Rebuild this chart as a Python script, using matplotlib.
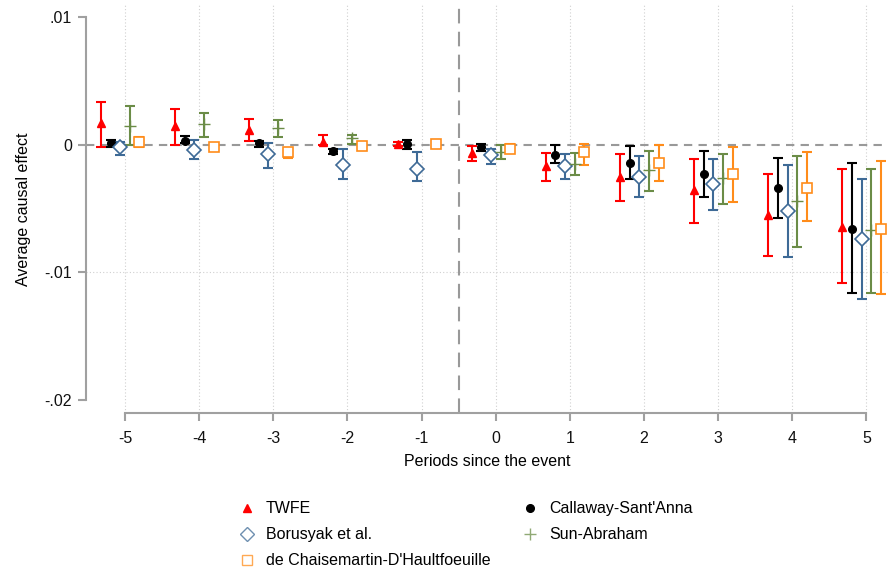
import matplotlib
matplotlib.use("Agg")
import matplotlib.pyplot as plt
from matplotlib.lines import Line2D
import numpy as np

plt.rcParams['font.family'] = ['Liberation Sans', 'DejaVu Sans']

periods = [-5, -4, -3, -2, -1, 0, 1, 2, 3, 4, 5]

series_names = ["TWFE", "Callaway-Sant'Anna", "Borusyak et al.", "Sun-Abraham",
                "de Chaisemartin-D'Haultfoeuille"]

twfe_est = [0.00168, 0.0015, 0.00115, 0.00024, 0.00005, -0.00068, -0.0017, -0.0025, -0.00355, -0.0055, -0.0064]
twfe_lo = [-0.0002, 0.0, 0.0003, 0.0, -0.0001, -0.0013, -0.0028, -0.0044, -0.0061, -0.0087, -0.0108]
twfe_hi = [0.00337, 0.0028, 0.002, 0.00076, 0.0002, -0.0001, -0.00068, -0.0007, -0.00114, -0.0023, -0.0019]

cs_est = [0.0001, 0.0003, 0.0001, -0.0005, 0.00005, -0.0002, -0.0008, -0.00146, -0.0023, -0.0034, -0.0066]
cs_lo = [-0.0002, 0.0001, -0.0002, -0.00075, -0.00036, -0.0005, -0.00146, -0.0027, -0.0041, -0.0057, -0.0116]
cs_hi = [0.0004, 0.0007, 0.0003, -0.0003, 0.00037, 0.00005, 0.0, -0.0001, -0.0005, -0.001, -0.00146]

bjs_est = [-0.0002, -0.0004, -0.00075, -0.0016, -0.0019, -0.0008, -0.0017, -0.0025, -0.0031, -0.0052, -0.0074]
bjs_lo = [-0.0008, -0.0011, -0.0018, -0.0027, -0.0028, -0.0015, -0.0027, -0.0041, -0.0051, -0.0088, -0.0121]
bjs_hi = [0.0002, 0.0004, 0.00016, -0.0003, -0.00055, -0.00036, -0.0007, -0.0009, -0.0011, -0.0016, -0.0027]

sa_est = [0.0015, 0.0016, 0.0013, 0.0005, np.nan, -0.00055, -0.0015, -0.002, -0.0026, -0.0044, -0.0067]
sa_lo = [0.0, 0.0006, 0.0006, 0.00005, np.nan, -0.0011, -0.0024, -0.0036, -0.0046, -0.008, -0.0116]
sa_hi = [0.003, 0.0025, 0.0019, 0.0008, np.nan, 0.0, -0.00068, -0.00047, -0.0007, -0.0009, -0.0019]

dcdh_est = [0.0002, -0.0002, -0.0006, -0.0001, 0.00003, -0.0003, -0.0006, -0.0014, -0.0023, -0.0034, -0.0066]
dcdh_lo = [-0.0002, -0.0004, -0.001, -0.0004, 0.0, -0.0006, -0.0016, -0.0028, -0.0045, -0.006, -0.0117]
dcdh_hi = [0.0006, 0.0, -0.0003, 0.00024, 0.00006, 0.00005, 0.00005, 0.0, -0.0002, -0.0006, -0.0013]

shifts = [-0.325, -0.195, -0.065, 0.065, 0.195]
colors = ["#FF0000", "#000000", "#3E6A96", "#6B8C47", "#FF8C1A"]
markers = ["^", "o", "D", "+", "s"]
msizes = [6, 5.5, 7, 8, 6.5]
filled = [True, True, False, True, False]

data = [(twfe_est, twfe_lo, twfe_hi), (cs_est, cs_lo, cs_hi), (bjs_est, bjs_lo, bjs_hi),
        (sa_est, sa_lo, sa_hi), (dcdh_est, dcdh_lo, dcdh_hi)]

fig = plt.figure(figsize=(8.88, 5.74), dpi=100)
ax = fig.add_axes([86/888, 1-413/574, 1-86/888, (413-5)/574])

ax.set_xlim(-5.526, 5.29)
ax.set_ylim(-0.0210, 0.01094)

# grid
for p in periods:
    ax.axvline(p, color="#d0d0d0", lw=0.8, ls=(0, (1, 2)), zorder=0)
ax.axhline(-0.01, color="#d0d0d0", lw=0.8, ls=(0, (1, 2)), zorder=0)
ax.axhline(0, color="#999999", lw=1.5, ls=(0, (4, 3)), zorder=1)
ax.axvline(-0.5, color="#999999", lw=1.5, ls=(0, (7, 4)), zorder=1)

handles = []
for i, (est, lo, hi) in enumerate(data):
    x = np.array(periods) + shifts[i]
    est = np.array(est); lo = np.array(lo); hi = np.array(hi)
    yerr = np.vstack([est - lo, hi - est])
    c = colors[i]
    ax.errorbar(x, est, yerr=yerr, fmt="none", ecolor=c, elinewidth=1.5,
                capsize=3.8, capthick=1.5, zorder=3)
    if filled[i]:
        ax.plot(x, est, ls="none", marker=markers[i], color=c, ms=msizes[i],
                mew=1.0, zorder=4)
    else:
        ax.plot(x, est, ls="none", marker=markers[i], mfc="white", mec=c,
                ms=msizes[i], mew=1.2, zorder=4)
    h = Line2D([], [], ls="none", marker=markers[i], color=c,
               mfc=(c if filled[i] else "none"), mec=c,
               ms=msizes[i], mew=1.0, alpha=(1 if i in (0, 1) else 0.75))
    handles.append(h)

for s in ["top", "right"]:
    ax.spines[s].set_visible(False)
ax.spines["left"].set_bounds(-0.02, 0.01)
ax.spines["bottom"].set_bounds(-5, 5)
for s in ["left", "bottom"]:
    ax.spines[s].set_color("#a0a0a0")
    ax.spines[s].set_linewidth(1.5)

ax.set_xticks(periods)
ax.set_xticklabels([str(p) for p in periods])
ax.set_yticks([-0.02, -0.01, 0, 0.01])
ax.set_yticklabels(["-.02", "-.01", "0", ".01"])
ax.tick_params(axis="both", colors="#a0a0a0", labelcolor="#111111", labelsize=11.5,
               width=1.5, length=6)
ax.tick_params(axis="x", pad=7)
ax.tick_params(axis="y", pad=4)

ax.set_xlabel("Periods since the event", fontsize=11.5, labelpad=6)
ax.set_ylabel("Average causal effect", fontsize=11.5, labelpad=10)

order = [0, 2, 4, 1, 3]
leg = fig.legend([handles[k] for k in order], [series_names[k] for k in order],
                 ncol=2, loc="upper left", bbox_to_anchor=(223/888, 1-487/574),
                 frameon=False, fontsize=11.5, handlelength=1.2, handletextpad=0.6,
                 columnspacing=1.85, labelspacing=0.68)

fig.savefig("out.png", dpi=100)
